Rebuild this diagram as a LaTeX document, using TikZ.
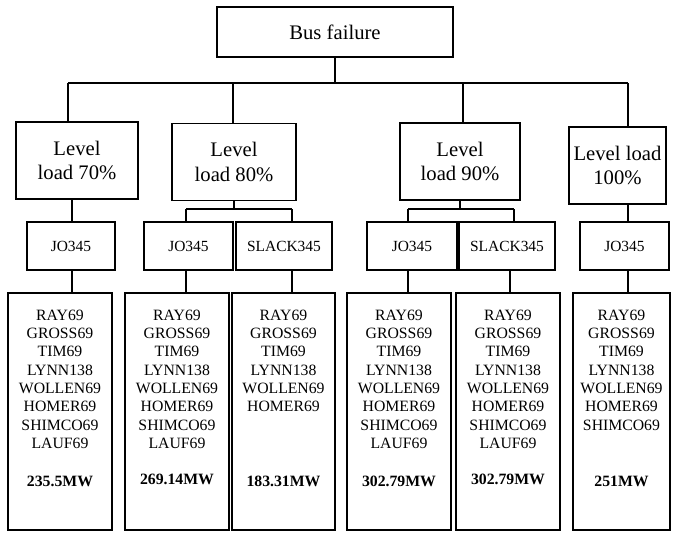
\documentclass[tikz,border=0pt]{standalone}
\usepackage{fontspec}
\setmainfont{Liberation Serif}
\begin{document}
\begin{tikzpicture}[
  x=0.025cm, y=-0.025cm,
  wire/.style={line width=1.1pt},
  top/.style ={draw, line width=1.4pt, minimum width=5.9cm, minimum height=1.25cm,
               font=\fontsize{14.7}{17.7}\selectfont},
  lvl/.style ={draw, line width=1.4pt, minimum height=1.925cm, inner sep=2pt, align=center,
               font=\fontsize{14.7}{17.7}\selectfont},
  bus/.style ={draw, line width=1.4pt, minimum height=1.2cm, font=\fontsize{11}{13}\selectfont},
  unit/.style={draw, line width=1.4pt, minimum height=5.925cm, align=center,
               font=\fontsize{11.2}{13}\selectfont},
]
  \useasboundingbox (0,0) rectangle (680,540);

  % root
  \node[top] (fail) at (335,32) {Bus failure};

  % load levels
  \node[lvl, minimum width=3.05cm]  (l70)  at (77,160.5)  {Level\\load 70\%};
  \node[lvl, minimum width=3.1cm]   (l80)  at (234,162)   {Level\\load 80\%};
  \node[lvl, minimum width=3.0cm]   (l90)  at (460,161.5) {Level\\load 90\%};
  \node[lvl, minimum width=2.425cm] (l100) at (617.5,165.5) {Level load\\100\%};

  % buses
  \node[bus, minimum width=2.2cm]   (jo70)  at (71,246)    {JO345};
  \node[bus, minimum width=2.225cm] (jo80)  at (188.5,246) {JO345};
  \node[bus, minimum width=2.4cm]   (sl80)  at (284,246)   {SLACK345};
  \node[bus, minimum width=2.25cm]  (jo90)  at (412,246)   {JO345};
  \node[bus, minimum width=2.4cm]   (sl90)  at (507,246)   {SLACK345};
  \node[bus, minimum width=2.225cm] (jo100) at (624.5,246) {JO345};

  % shed units
  \node[unit, minimum width=2.6cm] (b70) at (60,411.5)
    {RAY69\\GROSS69\\TIM69\\LYNN138\\WOLLEN69\\HOMER69\\SHIMCO69\\LAUF69\\[14pt]\textbf{235.5MW}\\[6pt]\mbox{}};
  \node[unit, minimum width=2.6cm] (b80) at (177,411.5)
    {RAY69\\GROSS69\\TIM69\\LYNN138\\WOLLEN69\\HOMER69\\SHIMCO69\\LAUF69\\[13pt]\textbf{269.14MW}\\[7pt]\mbox{}};
  \node[unit, minimum width=2.575cm] (b80s) at (283.5,411.5)
    {RAY69\\GROSS69\\TIM69\\LYNN138\\WOLLEN69\\HOMER69\\[40pt]\textbf{183.31MW}\\[6pt]\mbox{}};
  \node[unit, minimum width=2.6cm] (b90) at (399,411.5)
    {RAY69\\GROSS69\\TIM69\\LYNN138\\WOLLEN69\\HOMER69\\SHIMCO69\\LAUF69\\[14pt]\textbf{302.79MW}\\[6pt]\mbox{}};
  \node[unit, minimum width=2.6cm] (b90s) at (508,411.5)
    {RAY69\\GROSS69\\TIM69\\LYNN138\\WOLLEN69\\HOMER69\\SHIMCO69\\LAUF69\\[13pt]\textbf{302.79MW}\\[7pt]\mbox{}};
  \node[unit, minimum width=2.425cm] (b100) at (621.5,411.5)
    {RAY69\\GROSS69\\TIM69\\LYNN138\\WOLLEN69\\HOMER69\\SHIMCO69\\[27pt]\textbf{251MW}\\[6pt]\mbox{}};

  % tree lines
  \coordinate (t70)  at (68,83);
  \coordinate (t80)  at (233,83);
  \coordinate (t90)  at (463,83);
  \coordinate (t100) at (628,83);
  \draw[wire] (fail.south) -- (fail.south |- t70);
  \draw[wire] (t70) -- (t100);
  \draw[wire] (t70)  -- (t70 |- l70.north);
  \draw[wire] (t80)  -- (t80 |- l80.north);
  \draw[wire] (t90)  -- (t90 |- l90.north);
  \draw[wire] (t100) -- (t100 |- l100.north);

  \coordinate (c70)  at (72,0);
  \coordinate (f80a) at (186,209);
  \coordinate (f80b) at (292,209);
  \coordinate (f90a) at (408,209);
  \coordinate (f90b) at (514,209);
  \coordinate (g90b) at (510,0);
  \coordinate (c100) at (628,0);

  \draw[wire] (l70.south -| c70) -- (jo70.north -| c70);
  \draw[wire] (jo70.south -| c70) -- (b70.north -| c70);

  \draw[wire] (l80.south) -- (l80.south |- f80a);
  \draw[wire] (f80a) -- (f80b);
  \draw[wire] (f80a) -- (f80a |- jo80.north);
  \draw[wire] (f80b) -- (f80b |- sl80.north);
  \draw[wire] (jo80.south -| f80a) -- (b80.north -| f80a);
  \draw[wire] (sl80.south -| f80b) -- (b80s.north -| f80b);

  \draw[wire] (l90.south) -- (l90.south |- f90a);
  \draw[wire] (f90a) -- (f90b);
  \draw[wire] (f90a) -- (f90a |- jo90.north);
  \draw[wire] (f90b) -- (f90b |- sl90.north);
  \draw[wire] (jo90.south -| f90a) -- (b90.north -| f90a);
  \draw[wire] (sl90.south -| g90b) -- (b90s.north -| g90b);

  \draw[wire] (l100.south -| c100) -- (jo100.north -| c100);
  \draw[wire] (jo100.south -| c100) -- (b100.north -| c100);
\end{tikzpicture}
\end{document}
